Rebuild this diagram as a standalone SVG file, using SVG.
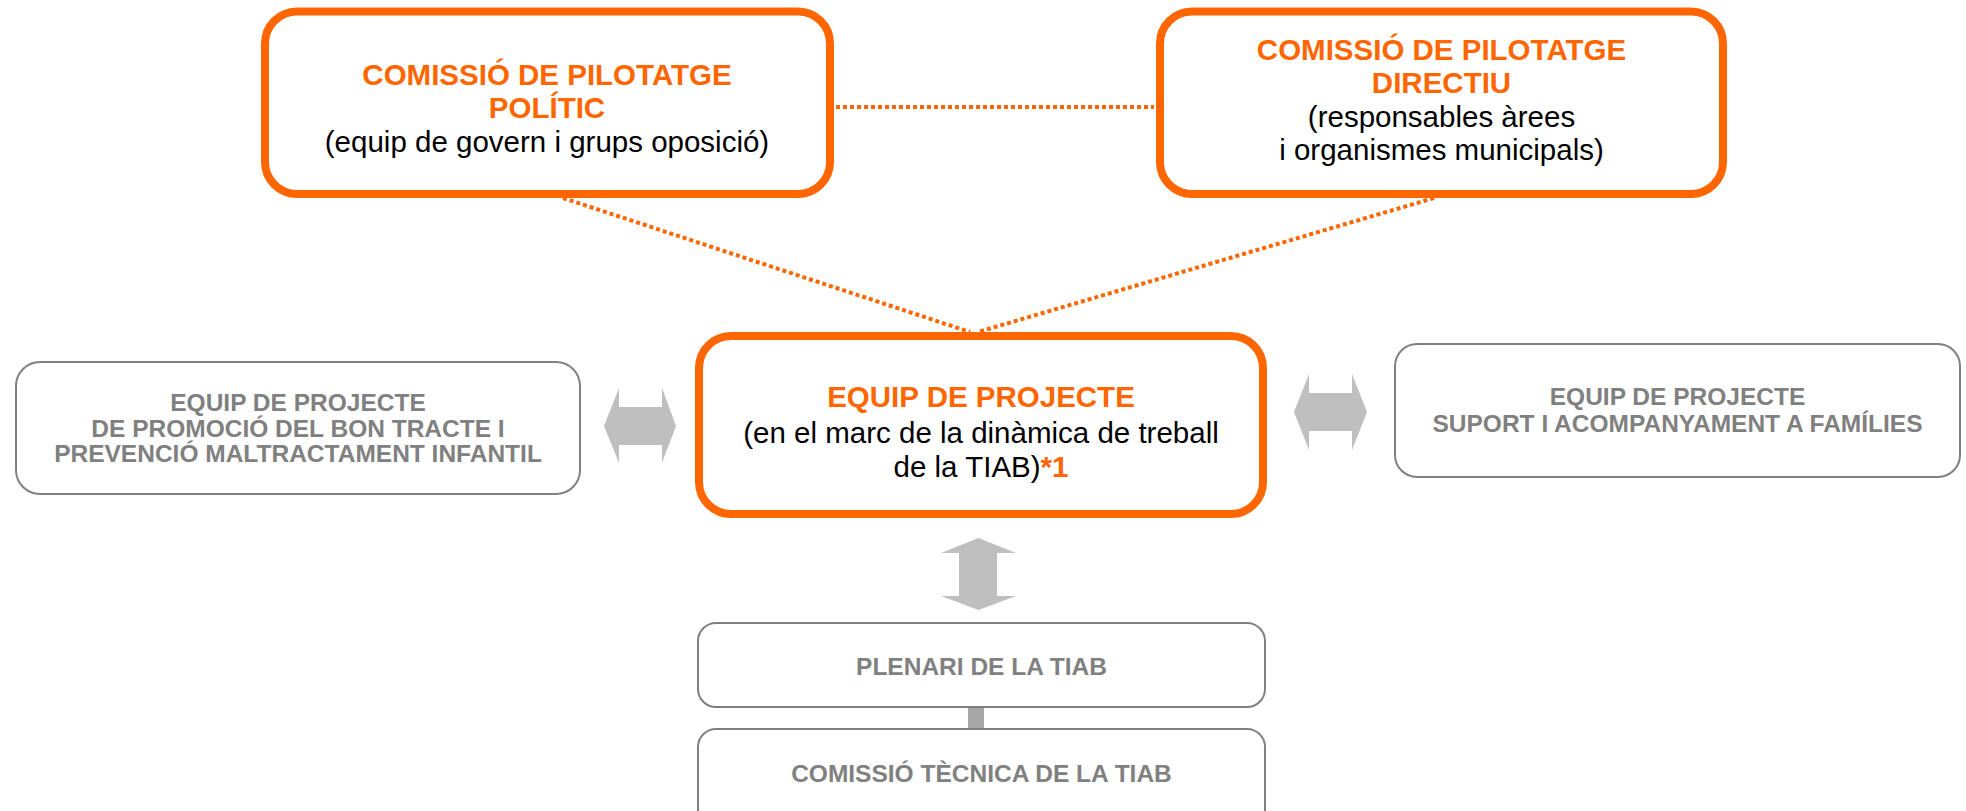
<svg xmlns="http://www.w3.org/2000/svg" width="1966" height="811" viewBox="0 0 1966 811">
<style>
.ob{fill:#fff;stroke:#ff6600;stroke-width:8}
.gb{fill:#fff;stroke:#808080;stroke-width:2}
.ot{font-family:"Liberation Sans",Arial,sans-serif;font-weight:bold;font-size:29.5px;fill:#ff6600;text-anchor:middle}
.bt{font-family:"Liberation Sans",Arial,sans-serif;font-size:29.5px;fill:#000;text-anchor:middle}
.gt{font-family:"Liberation Sans",Arial,sans-serif;font-weight:bold;font-size:24.5px;fill:#808080;text-anchor:middle}
.dot{fill:none;stroke:#ff6600;stroke-width:4;stroke-dasharray:4 3}
.arr{fill:#bfbfbf}
</style>
<g id="connectors">
<line class="dot" x1="836" y1="107" x2="1154" y2="107"/>
<line class="dot" x1="563" y1="198" x2="970" y2="332"/>
<line class="dot" x1="1434" y1="198" x2="978" y2="332"/>
<polygon class="arr" points="604,426 619,388 619,407 662,407 662,388 676,426 662,463 662,445 619,445 619,463"/>
<polygon class="arr" points="1294,412 1309,374 1309,393 1352,393 1352,374 1367,412 1352,450 1352,431 1309,431 1309,450"/>
<polygon class="arr" points="978.5,538 1016,553 997,553 997,596 1016,596 978.5,610 941,596 959,596 959,553 941,553"/>
<rect x="968" y="707" width="16" height="22" fill="#a6a6a6"/>
</g>
<g id="politic">
<rect class="ob" x="265" y="11.5" width="565" height="182.5" rx="32"/>
<text class="ot" x="547" y="85">COMISSIÓ DE PILOTATGE</text>
<text class="ot" x="547" y="118">POLÍTIC</text>
<text class="bt" x="547" y="152">(equip de govern i grups oposició)</text>
</g>
<g id="directiu">
<rect class="ob" x="1160" y="11.5" width="563" height="182.5" rx="32"/>
<text class="ot" x="1441.5" y="60">COMISSIÓ DE PILOTATGE</text>
<text class="ot" x="1441.5" y="93">DIRECTIU</text>
<text class="bt" x="1441.5" y="127">(responsables àrees</text>
<text class="bt" x="1441.5" y="160">i organismes municipals)</text>
</g>
<g id="equip">
<rect class="ob" x="699" y="336" width="564" height="178" rx="32"/>
<text class="ot" x="981" y="407">EQUIP DE PROJECTE</text>
<text class="bt" x="981" y="443">(en el marc de la dinàmica de treball</text>
<text class="bt" x="981" y="477">de la TIAB)<tspan style="font-weight:bold;fill:#ff6600">*1</tspan></text>
</g>
<g id="bontracte">
<rect class="gb" x="16" y="362" width="564" height="132" rx="24"/>
<text class="gt" x="298" y="411">EQUIP DE PROJECTE</text>
<text class="gt" x="298" y="437">DE PROMOCIÓ DEL BON TRACTE I</text>
<text class="gt" x="298" y="462">PREVENCIÓ MALTRACTAMENT INFANTIL</text>
</g>
<g id="families">
<rect class="gb" x="1395" y="344" width="565" height="133" rx="22"/>
<text class="gt" x="1677.5" y="405">EQUIP DE PROJECTE</text>
<text class="gt" x="1677.5" y="432">SUPORT I ACOMPANYAMENT A FAMÍLIES</text>
</g>
<g id="plenari">
<rect class="gb" x="698" y="623" width="567" height="84" rx="18"/>
<text class="gt" x="981.5" y="675">PLENARI DE LA TIAB</text>
</g>
<g id="tecnica">
<rect class="gb" x="698" y="729" width="567" height="100" rx="18"/>
<text class="gt" x="981.5" y="782">COMISSIÓ TÈCNICA DE LA TIAB</text>
</g>
</svg>
